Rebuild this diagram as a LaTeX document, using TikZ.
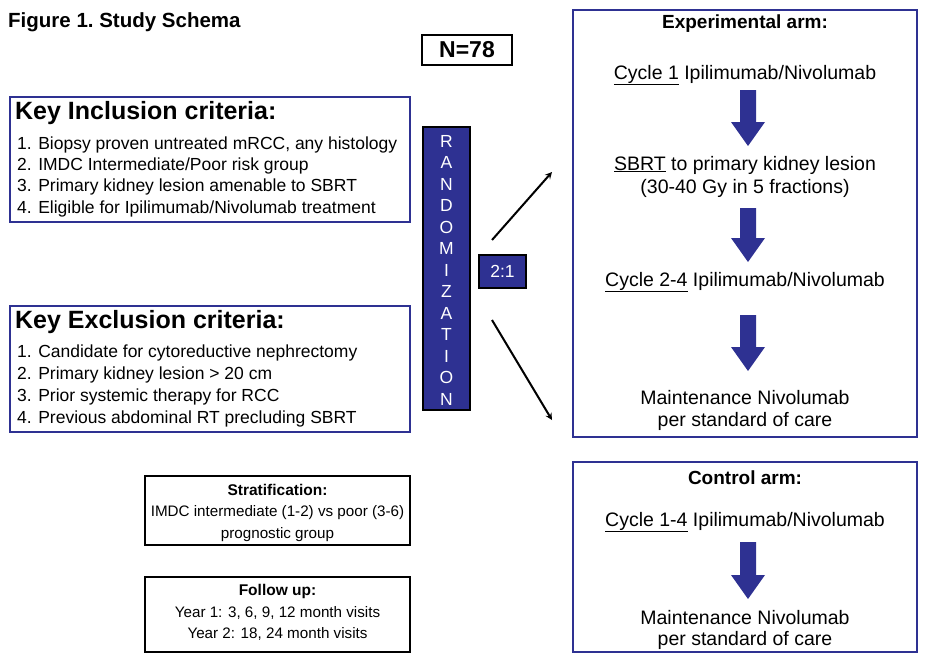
\documentclass[tikz,border=0pt]{standalone}
\usepackage{fontspec}
\setmainfont{Liberation Sans}
\definecolor{navy}{HTML}{2E3192}

\tikzset{
  bluebox/.style={draw=navy, line width=2.2pt},
  blackbox/.style={draw=black, line width=2pt},
  txt/.style={font=\fontsize{17.5}{19}\selectfont, inner sep=0pt},
  armtxt/.style={font=\fontsize{19.5}{21}\selectfont, inner sep=0pt},
  smalltxt/.style={font=\fontsize{15.2}{17}\selectfont, inner sep=0pt},
  head/.style={font=\fontsize{19}{21}\selectfont\bfseries, inner sep=0pt},
  smallhead/.style={font=\fontsize{15.5}{17}\selectfont\bfseries, inner sep=0pt},
  bighead/.style={font=\fontsize{25}{27}\selectfont\bfseries, inner sep=0pt}
}
% block arrow pointing down: centre x, top y, bottom y
\newcommand{\downblock}[3]{%
  \fill[navy] (#1-8,#2) -- (#1+8,#2) -- (#1+8,#3-24) -- (#1+17,#3-24)
    -- (#1,#3) -- (#1-17,#3-24) -- (#1-8,#3-24) -- cycle;}

\begin{document}
\begin{tikzpicture}[x=1pt,y=-1pt]
  \useasboundingbox (0,0) rectangle (931,661);
  % Title
  \node[head, anchor=west, font=\fontsize{20.5}{22}\selectfont\bfseries] (title) at (8,22) {Figure 1.\ Study Schema};
  \node[head, blackbox, font=\fontsize{23}{25}\selectfont\bfseries, minimum width=90pt, minimum height=30pt] (n) at (467,50) {N=78};

  % Inclusion
  \draw[bluebox] (10,97) rectangle (410,222);
  \node[bighead, anchor=west] (inc) at (15,113) {Key Inclusion criteria:};
  \node[txt, anchor=west] (inc1) at (17,145) {1. Biopsy proven untreated mRCC, any histology};
  \node[txt, anchor=west] (inc2) at (17,166) {2. IMDC Intermediate/Poor risk group};
  \node[txt, anchor=west] (inc3) at (17,187) {3. Primary kidney lesion amenable to SBRT};
  \node[txt, anchor=west] (inc4) at (17,209) {4. Eligible for Ipilimumab/Nivolumab treatment};

  % Exclusion
  \draw[bluebox] (10,306) rectangle (410,432);
  \node[bighead, anchor=west] (exc) at (15,322) {Key Exclusion criteria:};
  \node[txt, anchor=west] (exc1) at (17,353) {1. Candidate for cytoreductive nephrectomy};
  \node[txt, anchor=west] (exc2) at (17,375) {2. Primary kidney lesion > 20 cm};
  \node[txt, anchor=west] (exc3) at (17,397) {3. Prior systemic therapy for RCC};
  \node[txt, anchor=west] (exc4) at (17,419) {4. Previous abdominal RT precluding SBRT};

  % Randomization
  \draw[fill=navy, draw=black, line width=1.5pt] (423,127) rectangle (470,410);
  \foreach \l [count=\i from 0] in {R,A,N,D,O,M,I,Z,A,T,I,O,N}
    \node[txt, text=white] (r\i) at (446.5,{141+21.5*\i}) {\l};
  \node[txt, text=white, fill=navy, draw=black, line width=1.2pt, minimum width=47pt, minimum height=33pt] (ratio) at (502.5,271.5) {2:1};
  \coordinate (up0) at (492,240);
  \coordinate (up1) at (552,172);
  \coordinate (dn0) at (492,320);
  \coordinate (dn1) at (552,420);
  \draw[line width=2pt, -stealth] (up0) -- (up1);
  \draw[line width=2pt, -stealth] (dn0) -- (dn1);

  % Experimental arm
  \draw[bluebox] (573,10) rectangle (917,437);
  \node[head] (exp) at (745,24) {Experimental arm:};
  \node[armtxt] (e1) at (745,75) {\underline{Cycle 1} Ipilimumab/Nivolumab};
  \downblock{748}{90}{146}
  \node[armtxt] (e2) at (745,165) {\underline{SBRT} to primary kidney lesion};
  \node[armtxt] (e2b) at (745,188) {(30-40 Gy in 5 fractions)};
  \downblock{748}{208}{262}
  \node[armtxt] (e3) at (745,282) {\underline{Cycle 2-4} Ipilimumab/Nivolumab};
  \downblock{748}{315}{371}
  \node[armtxt] (e4) at (745,398) {Maintenance Nivolumab};
  \node[armtxt] (e4b) at (745,421) {per standard of care};

  % Control arm
  \draw[bluebox] (573,462) rectangle (917,652);
  \node[head] (ctl) at (745,478) {Control arm:};
  \node[armtxt] (c1) at (745,522) {\underline{Cycle 1-4} Ipilimumab/Nivolumab};
  \downblock{748}{542}{599}
  \node[armtxt] (c2) at (745,618) {Maintenance Nivolumab};
  \node[armtxt] (c2b) at (745,640) {per standard of care};

  % Stratification
  \draw[blackbox] (145,476) rectangle (410,545);
  \node[smallhead] (st) at (277.5,490) {Stratification:};
  \node[smalltxt] (st1) at (277.5,513) {IMDC intermediate (1-2) vs poor (3-6)};
  \node[smalltxt] (st2) at (277.5,535) {prognostic group};

  % Follow up
  \draw[blackbox] (145,577) rectangle (410,652);
  \node[smallhead] (fu) at (277.5,591) {Follow up:};
  \node[smalltxt] (fu1) at (277.5,613) {Year 1: 3, 6, 9, 12 month visits};
  \node[smalltxt] (fu2) at (277.5,634) {Year 2: 18, 24 month visits};
\end{tikzpicture}
\end{document}
